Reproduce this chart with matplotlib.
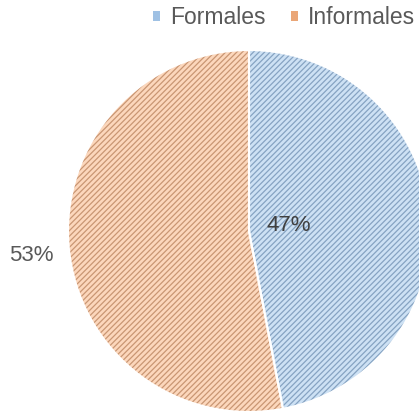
import matplotlib.pyplot as plt
from matplotlib.patches import Patch

plt.rcParams['font.family'] = ['Liberation Sans', 'DejaVu Sans']
plt.rcParams['hatch.linewidth'] = 0.9

labels = ['Formales', 'Informales']
values = [47, 53]
face_colors = ['#cde1f4', '#fcd7bc']
hatch_colors = ['#86a3c2', '#c99673']
legend_colors = ['#9fc1e4', '#eaa677']

fig = plt.figure(figsize=(4.19, 4.15), dpi=100)
ax = fig.add_axes([0, 0, 1, 1])

# hatched wedges, clockwise from 12 o'clock
wedges, _ = ax.pie(values, startangle=90, counterclock=False, radius=1,
                   colors=face_colors, wedgeprops=dict(linewidth=0))
for w, hc in zip(wedges, hatch_colors):
    w.set_edgecolor(hc)
    w.set_linewidth(0)
    w.set_hatch('//////')

# white separators
ax.pie(values, startangle=90, counterclock=False, radius=1,
       wedgeprops=dict(edgecolor='white', linewidth=1.5, fill=False))

# pie is slightly clipped at the right edge like the source
ax.set_xlim(-249 / 181, 170 / 181)
ax.set_ylim(-184 / 181, 231 / 181)
ax.set_aspect('auto')
ax.axis('off')

ax.text(0.221, 0.033, f'{values[0]}%', fontsize=16, color='#404040',
        ha='center', va='center')
ax.text(-1.204, -0.133, f'{values[1]}%', fontsize=16, color='#595959',
        ha='center', va='center')

handles = [Patch(facecolor=c, edgecolor='none') for c in legend_colors]
fig.legend(handles, labels, loc='center right',
           bbox_to_anchor=(415 / 419, 1 - 18 / 415),
           ncol=2, frameon=False, fontsize=16.5, labelcolor='#595959',
           borderpad=0, borderaxespad=0,
           handlelength=0.3, handleheight=0.3, handletextpad=0.45,
           columnspacing=1.1)

fig.savefig('out.png', dpi=100)
